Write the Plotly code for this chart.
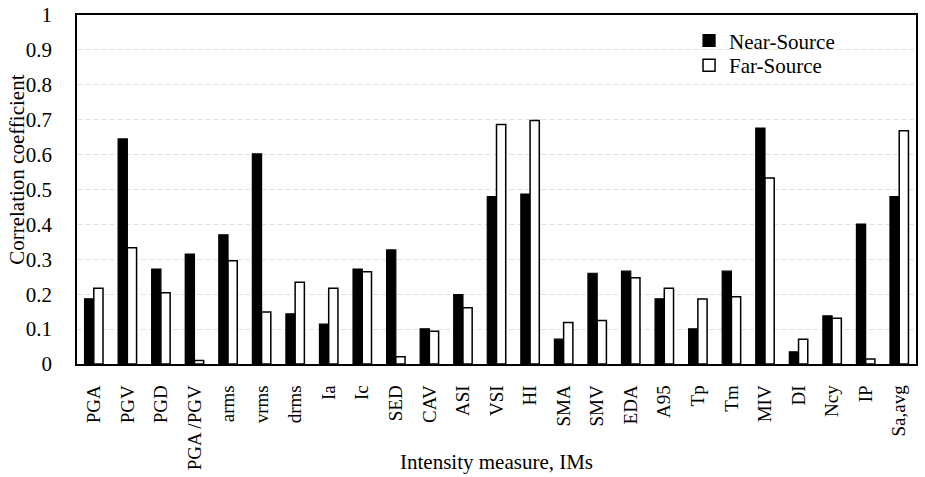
import plotly.graph_objects as go

categories = ["PGA", "PGV", "PGD", "PGA /PGV", "arms", "vrms", "drms", "Ia", "Ic", "SED",
              "CAV", "ASI", "VSI", "HI", "SMA", "SMV", "EDA", "A95", "Tp", "Tm",
              "MIV", "DI", "Ncy", "IP", "Sa,avg"]
near_source = [0.187, 0.645, 0.272, 0.315, 0.370, 0.602, 0.144, 0.114, 0.272, 0.327,
               0.101, 0.199, 0.480, 0.487, 0.071, 0.260, 0.266, 0.187, 0.101, 0.266,
               0.676, 0.035, 0.138, 0.401, 0.480]
far_source = [0.217, 0.333, 0.204, 0.010, 0.296, 0.149, 0.234, 0.217, 0.264, 0.021,
              0.094, 0.161, 0.686, 0.698, 0.119, 0.125, 0.247, 0.217, 0.186, 0.193,
              0.533, 0.071, 0.131, 0.014, 0.668]
y_ticks = [0, 0.1, 0.2, 0.3, 0.4, 0.5, 0.6, 0.7, 0.8, 0.9, 1]
y_tick_labels = ["0", "0.1", "0.2", "0.3", "0.4", "0.5", "0.6", "0.7", "0.8", "0.9", "1"]

FONT = "Liberation Serif, Times New Roman, serif"
FS = 21

fig = go.Figure()
fig.add_trace(go.Bar(x=categories, y=near_source, name="Near-Source", legend="legend",
                     marker=dict(color="black", line=dict(color="black", width=1.2))))
fig.add_trace(go.Bar(x=categories, y=far_source, name="Far-Source", legend="legend2",
                     marker=dict(color="white", line=dict(color="black", width=1.5))))

leg_common = dict(xanchor="left", yanchor="middle", bgcolor="rgba(0,0,0,0)", borderwidth=0,
                  font=dict(family=FONT, size=FS, color="black"), itemwidth=30)

fig.update_layout(
    width=925, height=477,
    margin=dict(l=77, r=9, t=15, b=112.5),
    paper_bgcolor="white", plot_bgcolor="white",
    font=dict(family=FONT, size=FS, color="black"),
    barmode="group", bargap=0.45, bargroupgap=0,
    showlegend=True,
    legend=dict(x=0.7295, y=0.926, **leg_common),
    legend2=dict(x=0.7295, y=0.855, **leg_common),
    xaxis=dict(
        tickangle=-90, showgrid=False, ticks="", automargin=False,
        showline=True, linecolor="black", linewidth=1.5, mirror=True,
        tickfont=dict(family=FONT, size=19, color="black"),
        ticklabelstandoff=12,
    ),
    yaxis=dict(
        range=[0, 1], tickvals=y_ticks, ticktext=y_tick_labels, automargin=False,
        showgrid=True, gridcolor="#e6e2d3", griddash="5px,3px", gridwidth=1.2,
        zeroline=False, ticks="",
        showline=True, linecolor="black", linewidth=1.5, mirror=True,
        tickfont=dict(family=FONT, size=FS, color="black"),
        ticklabelstandoff=19,
    ),
    annotations=[
        dict(text="Correlation coefficient", xref="paper", yref="paper",
             x=-0.0715, y=0.5565, xanchor="center", yanchor="middle",
             textangle=-90, showarrow=False,
             font=dict(family=FONT, size=FS, color="black")),
        dict(text="Intensity measure, IMs", xref="paper", yref="paper",
             x=0.5, y=-0.282, xanchor="center", yanchor="middle",
             showarrow=False,
             font=dict(family=FONT, size=FS, color="black")),
    ],
)

fig.write_html("out.html")
